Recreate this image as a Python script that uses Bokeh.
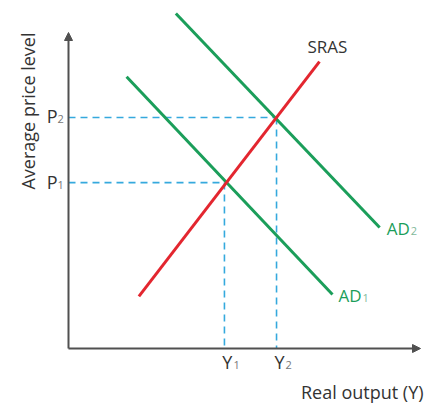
from bokeh.plotting import figure
from bokeh.models import Arrow, NormalHead, Label, Range1d
from bokeh.embed import file_html
from bokeh.resources import INLINE

# ---- data (economic units: output 0..10, price 0..10) ----
sras_x = [2.0, 7.13]
sras_y = [1.65, 9.08]
ad1_x = [1.65, 7.5]
ad1_y = [8.6, 1.71]
ad2_x = [3.05, 8.84]
ad2_y = [10.6, 3.83]
Y1, Y2 = 4.43, 5.91
P1, P2 = 5.25, 7.31
x_max, y_max = 10.0, 10.0

GREEN = "#1b9e5a"
RED = "#e3262f"
BLUE = "#35a9dd"
AXIS = "#505050"
TEXT = "#333333"
SUB = "#777777"
SUBG = "#7fb99a"
FONT = "Open Sans"

# geometry: origin at (68,348) from the figure's top-left; 35.2 px/unit in x, 31.6 px/unit in y
W, H = 432, 403
sx, sy = 35.2, 31.6
x0 = (0 - 68) / sx
x1 = (W - 68) / sx
y0 = (348 - H) / sy
y1 = 348 / sy

p = figure(width=W, height=H, output_backend="svg", toolbar_location=None,
           x_range=Range1d(x0, x1), y_range=Range1d(y0, y1), min_border=0)
p.axis.visible = False
p.grid.visible = False
p.outline_line_color = None
p.background_fill_color = "white"

# axes with arrows
p.add_layout(Arrow(x_start=0, y_start=0, x_end=0, y_end=y_max, line_color=AXIS, line_width=2,
                   end=NormalHead(size=8, fill_color=AXIS, line_color=AXIS)))
p.add_layout(Arrow(x_start=0, y_start=0, x_end=x_max, y_end=0, line_color=AXIS, line_width=2,
                   end=NormalHead(size=8, fill_color=AXIS, line_color=AXIS)))

# dashed guides
for (xs, ys) in [([0, Y1], [P1, P1]), ([Y1, Y1], [P1, 0]),
                 ([0, Y2], [P2, P2]), ([Y2, Y2], [P2, 0])]:
    p.line(xs, ys, line_color=BLUE, line_width=1.6, line_dash="7 5")

# curves
p.line(ad1_x, ad1_y, line_color=GREEN, line_width=3)
p.line(ad2_x, ad2_y, line_color=GREEN, line_width=3)
p.line(sras_x, sras_y, line_color=RED, line_width=3)


def lab(x, y, t, size, color=TEXT, align="left", base="alphabetic", angle=0, xo=0, yo=0):
    p.add_layout(Label(x=x, y=y, text=t, text_font=FONT, text_font_size=f"{size}px",
                       text_color=color, text_align=align, text_baseline=base,
                       angle=angle, x_offset=xo, y_offset=yo))


# price labels
lab(0, P2, "P", 18, align="right", xo=-11, yo=2)
lab(0, P2, "2", 11, color=SUB, align="left", xo=-11, yo=-1)
lab(0, P1, "P", 18, align="right", xo=-11, yo=1)
lab(0, P1, "1", 11, color=SUB, align="left", xo=-11, yo=-2)
# output labels
lab(Y1, 0, "Y", 18, align="right", xo=8, yo=-13)
lab(Y1, 0, "1", 11, color=SUB, align="left", xo=9, yo=-16)
lab(Y2, 0, "Y", 18, align="right", xo=8, yo=-13)
lab(Y2, 0, "2", 11, color=SUB, align="left", xo=9, yo=-16)

# curve labels
lab(sras_x[1], sras_y[1], "SRAS", 17, align="center", xo=8, yo=15)
lab(ad1_x[1], ad1_y[1], "AD", 17, color=GREEN, align="left", xo=6, yo=-1)
lab(ad1_x[1], ad1_y[1], "1", 11, color=SUBG, align="left", xo=30, yo=-4)
lab(ad2_x[1], ad2_y[1], "AD", 17, color=GREEN, align="left", xo=7, yo=-1)
lab(ad2_x[1], ad2_y[1], "2", 11, color=SUBG, align="left", xo=31, yo=-4)

# axis titles
lab(x_max, 0, "Real output (Y)", 18, align="right", base="middle", xo=3, yo=-43)
lab(0, y_max, "Average price level", 18, align="right", base="middle", angle=1.5708, xo=-41, yo=0)

open("out.html", "w").write(file_html(p, INLINE))
